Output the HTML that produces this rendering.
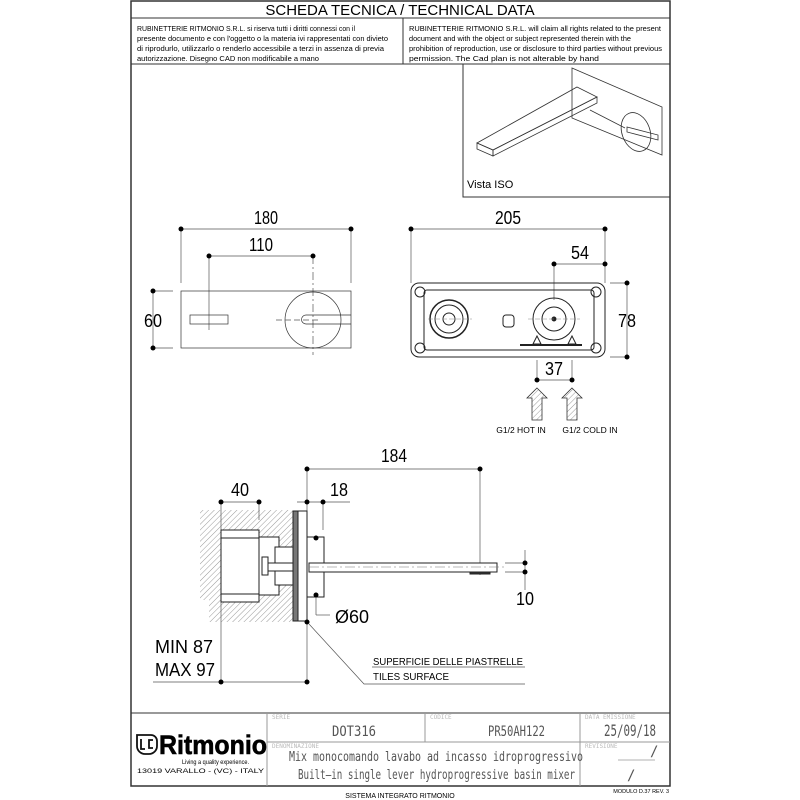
<!DOCTYPE html>
<html><head><meta charset="utf-8"><style>
html,body{margin:0;padding:0;background:#fff;width:800px;height:800px;overflow:hidden}
svg{display:block}
text{font-family:"Liberation Sans",sans-serif}
.m{font-family:"DejaVu Sans Mono","Liberation Mono",monospace}
</style></head><body>
<svg width="800" height="800" viewBox="0 0 800 800" xmlns="http://www.w3.org/2000/svg">
<defs>
<pattern id="h" width="4" height="4" patternUnits="userSpaceOnUse" patternTransform="rotate(45)">
<line x1="0" y1="0" x2="0" y2="4" stroke="#999" stroke-width="1"/></pattern>
</defs>
<g fill="none" stroke="#333" stroke-width="1">
<rect x="131" y="1" width="539" height="785" stroke-width="1.5"/>
<line x1="131" y1="18" x2="670" y2="18"/>
<line x1="131" y1="64" x2="670" y2="64"/>
<line x1="403" y1="18" x2="403" y2="64"/>
<polyline points="463,64 463,197 670,197"/>
<line x1="131" y1="713" x2="670" y2="713"/>
<line x1="267" y1="742" x2="670" y2="742" stroke="#999"/>
<line x1="267" y1="713" x2="267" y2="786" stroke="#999"/>
<line x1="425" y1="713" x2="425" y2="742" stroke="#999"/>
<line x1="580" y1="713" x2="580" y2="786" stroke="#999"/>
</g>
<text x="400" y="15" font-size="15" text-anchor="middle">SCHEDA TECNICA / TECHNICAL DATA</text>
<g font-size="7.5">
<text x="137" y="31" textLength="218" lengthAdjust="spacingAndGlyphs">RUBINETTERIE RITMONIO S.R.L. si riserva tutti i diritti connessi con il</text>
<text x="137" y="41" textLength="251" lengthAdjust="spacingAndGlyphs">presente documento e con l'oggetto o la materia ivi rappresentati con divieto</text>
<text x="137" y="51" textLength="247" lengthAdjust="spacingAndGlyphs">di riprodurlo, utilizzarlo o renderlo accessibile a terzi in assenza di previa</text>
<text x="137" y="61" textLength="182" lengthAdjust="spacingAndGlyphs">autorizzazione. Disegno CAD non modificabile a mano</text>
<text x="409" y="31" textLength="252" lengthAdjust="spacingAndGlyphs">RUBINETTERIE RITMONIO S.R.L. will claim all rights related to the present</text>
<text x="409" y="41" textLength="222" lengthAdjust="spacingAndGlyphs">document and with the object or subject represented therein with the</text>
<text x="409" y="51" textLength="253" lengthAdjust="spacingAndGlyphs">prohibition  of reproduction, use or disclosure to third parties without previous</text>
<text x="409" y="61" textLength="190" lengthAdjust="spacingAndGlyphs">permission.  The Cad plan is not alterable by hand</text>
</g>
<g fill="none" stroke="#333" stroke-width="0.8">
<polygon points="572,68 662,107 662,155 572,118"/>
<polygon points="577,87 597,97 493,150 477,143"/>
<polygon points="477,143 493,150 493,156 477,149"/>
<polygon points="597,97 597,103 493,156 493,150"/>
<line x1="590" y1="110" x2="625" y2="128"/>
<ellipse cx="636" cy="132" rx="14" ry="20" transform="rotate(-20 636 132)"/>
<polygon points="627,127 658,135 658,140 627,132"/>
</g>
<text x="467" y="188" font-size="11">Vista ISO</text>
<g fill="none" stroke="#555" stroke-width="0.7">
<line x1="181" y1="229" x2="351" y2="229"/><line x1="181" y1="229" x2="181" y2="283"/><line x1="351" y1="229" x2="351" y2="283"/>
<line x1="209" y1="256" x2="313" y2="256"/><line x1="209" y1="256" x2="209" y2="330"/><line x1="313" y1="256" x2="313" y2="355" stroke-dasharray="8 3 2 3"/>
<line x1="153" y1="291" x2="153" y2="348"/><line x1="153" y1="291" x2="173" y2="291"/><line x1="153" y1="348" x2="173" y2="348"/>
<rect x="181" y="291" width="170" height="57" stroke="#333"/>
<circle cx="313" cy="320" r="28" stroke="#333"/>
<rect x="190" y="315" width="38" height="9" stroke="#333"/>
<path d="M351,315 H306 a4.5,4.5 0 0 0 0,9 H351" stroke="#333"/>
<line x1="276" y1="320" x2="320" y2="320" stroke-dasharray="6 3"/>
</g>
<g fill="#000">
<circle cx="181" cy="229" r="2.5"/><circle cx="351" cy="229" r="2.5"/>
<circle cx="209" cy="256" r="2.5"/><circle cx="313" cy="256" r="2.5"/>
<circle cx="153" cy="291" r="2.5"/><circle cx="153" cy="348" r="2.5"/>
</g>
<g font-size="18" text-anchor="middle">
<text x="266" y="224" textLength="24" lengthAdjust="spacingAndGlyphs">180</text>
<text x="261" y="251" textLength="24" lengthAdjust="spacingAndGlyphs">110</text>
<text x="153" y="327" textLength="18" lengthAdjust="spacingAndGlyphs">60</text>
<text x="508" y="224" textLength="26" lengthAdjust="spacingAndGlyphs">205</text>
<text x="580" y="259" textLength="18" lengthAdjust="spacingAndGlyphs">54</text>
<text x="627" y="327" textLength="18" lengthAdjust="spacingAndGlyphs">78</text>
<text x="554" y="375" textLength="18" lengthAdjust="spacingAndGlyphs">37</text>
<text x="394" y="462" textLength="26" lengthAdjust="spacingAndGlyphs">184</text>
<text x="240" y="496" textLength="18" lengthAdjust="spacingAndGlyphs">40</text>
<text x="339" y="496" textLength="18" lengthAdjust="spacingAndGlyphs">18</text>
<text x="525" y="605" textLength="18" lengthAdjust="spacingAndGlyphs">10</text>
</g>
<g fill="none" stroke="#555" stroke-width="0.7">
<line x1="411" y1="229" x2="605" y2="229"/><line x1="411" y1="229" x2="411" y2="283"/><line x1="605" y1="229" x2="605" y2="283"/>
<line x1="554" y1="264" x2="605" y2="264"/><line x1="554" y1="264" x2="554" y2="300"/>
<line x1="627" y1="283" x2="627" y2="357"/><line x1="610" y1="283" x2="627" y2="283"/><line x1="610" y1="357" x2="627" y2="357"/>
<line x1="537" y1="360" x2="537" y2="380"/><line x1="572" y1="360" x2="572" y2="380"/><line x1="537" y1="380" x2="572" y2="380"/>
</g>
<g fill="none" stroke="#222" stroke-width="1">
<rect x="411" y="283" width="194" height="74" rx="8"/>
<rect x="424" y="290" width="170" height="60" rx="3"/>
<circle cx="420" cy="292" r="5"/><circle cx="596" cy="292" r="5"/><circle cx="420" cy="348" r="5"/><circle cx="596" cy="348" r="5"/>
<circle cx="449" cy="319" r="19" stroke-width="1.5"/><circle cx="449" cy="319" r="14"/><circle cx="449" cy="319" r="6"/>
<circle cx="554" cy="319" r="21"/><circle cx="554" cy="319" r="12"/><circle cx="554" cy="319" r="2" fill="#222"/>
<rect x="503" y="315" width="11" height="12" rx="3"/>
<line x1="520" y1="345" x2="582" y2="345" stroke-width="2"/>
<path d="M533,344 l4,-8 l4,8 z M568,344 l4,-8 l4,8 z"/>
<line x1="428" y1="319" x2="472" y2="319" stroke="#888" stroke-width="0.5" stroke-dasharray="5 2"/>
<line x1="528" y1="319" x2="580" y2="319" stroke="#888" stroke-width="0.5" stroke-dasharray="5 2"/>
</g>
<g fill="url(#h)" stroke="#333" stroke-width="0.8">
<path d="M537,388 l10,10 h-5 v22 h-10 v-22 h-5 z"/>
<path d="M572,388 l10,10 h-5 v22 h-10 v-22 h-5 z"/>
</g>
<g fill="#000">
<circle cx="411" cy="229" r="2.5"/><circle cx="605" cy="229" r="2.5"/>
<circle cx="554" cy="264" r="2.5"/><circle cx="605" cy="264" r="2.5"/>
<circle cx="627" cy="283" r="2.5"/><circle cx="627" cy="357" r="2.5"/>
<circle cx="537" cy="380" r="2.5"/><circle cx="572" cy="380" r="2.5"/>
</g>
<text x="521" y="433" font-size="8.5" text-anchor="middle">G1/2 HOT IN</text>
<text x="590" y="433" font-size="8.5" text-anchor="middle">G1/2 COLD IN</text>
<path d="M200,510 H293 V622 H209 V600 H200 Z" fill="url(#h)"/>
<g fill="none" stroke="#555" stroke-width="0.7">
<line x1="307" y1="469" x2="480" y2="469"/><line x1="480" y1="469" x2="480" y2="575"/>
<line x1="221" y1="502" x2="259" y2="502"/><line x1="221" y1="502" x2="221" y2="682"/><line x1="259" y1="502" x2="259" y2="520"/>
<line x1="297" y1="502" x2="350" y2="502"/><line x1="307" y1="469" x2="307" y2="682"/><line x1="323" y1="502" x2="323" y2="530"/>
<line x1="316" y1="538" x2="316" y2="615"/><line x1="316" y1="615" x2="330" y2="615"/>
<line x1="505" y1="563" x2="525" y2="563"/><line x1="505" y1="572" x2="525" y2="572"/><line x1="525" y1="550" x2="525" y2="590"/>
<line x1="153" y1="682" x2="307" y2="682"/>
<polyline points="309,624 364,684 525,684"/>
<line x1="372" y1="667" x2="525" y2="667"/>
</g>
<g fill="#fff" stroke="#222" stroke-width="1">
<rect x="221" y="530" width="38" height="72"/>
<line x1="221" y1="538" x2="259" y2="538"/><line x1="221" y1="594" x2="259" y2="594"/>
<rect x="259" y="537" width="20" height="58"/>
<rect x="275" y="547" width="32" height="38"/>
<rect x="262" y="557" width="6" height="18"/>
<rect x="268" y="563" width="40" height="8"/>
<rect x="293" y="511" width="5" height="110" fill="#777"/>
<rect x="298" y="511" width="9" height="110"/>
<rect x="307" y="537" width="17" height="60"/>
<rect x="309" y="563" width="188" height="9"/>
<path d="M470,572 h20 v2 h-20 z" fill="#333"/>
</g>
<line x1="309" y1="567" x2="505" y2="567" stroke="#777" stroke-width="0.6" stroke-dasharray="10 3 2 3"/>
<g fill="#000">
<circle cx="307" cy="469" r="2.5"/><circle cx="480" cy="469" r="2.5"/>
<circle cx="221" cy="502" r="2.5"/><circle cx="259" cy="502" r="2.5"/>
<circle cx="307" cy="502" r="2.5"/><circle cx="323" cy="502" r="2.5"/>
<circle cx="316" cy="538" r="2.5"/><circle cx="316" cy="595" r="2.5"/>
<circle cx="525" cy="563" r="2.5"/><circle cx="525" cy="572" r="2.5"/>
<circle cx="307" cy="622" r="2.5"/>
<circle cx="221" cy="682" r="2.5"/><circle cx="307" cy="682" r="2.5"/>
</g>
<text x="335" y="623" font-size="18" textLength="34" lengthAdjust="spacingAndGlyphs">Ø60</text>
<text x="155" y="653" font-size="18" textLength="58" lengthAdjust="spacingAndGlyphs">MIN 87</text>
<text x="155" y="676" font-size="18" textLength="60" lengthAdjust="spacingAndGlyphs">MAX 97</text>
<text x="373" y="665" font-size="10" textLength="150" lengthAdjust="spacingAndGlyphs">SUPERFICIE DELLE PIASTRELLE</text>
<text x="373" y="680" font-size="10" textLength="76" lengthAdjust="spacingAndGlyphs">TILES SURFACE</text>
<g font-size="6" fill="#bbb" class="m">
<text x="272" y="719" class="m">SERIE</text><text x="430" y="719" class="m">CODICE</text>
<text x="585" y="719" class="m">DATA EMISSIONE</text><text x="272" y="748" class="m">DENOMINAZIONE</text><text x="585" y="748" class="m">REVISIONE</text>
</g>
<g fill="#555" class="m">
<text x="332" y="736" font-size="14" textLength="44" lengthAdjust="spacingAndGlyphs" class="m">DOT316</text>
<text x="488" y="736" font-size="14" textLength="57" lengthAdjust="spacingAndGlyphs" class="m">PR50AH122</text>
<text x="604" y="736" font-size="16" textLength="52" lengthAdjust="spacingAndGlyphs" class="m">25/09/18</text>
<text x="289" y="761" font-size="13.5" textLength="294" lengthAdjust="spacingAndGlyphs" class="m">Mix monocomando lavabo ad incasso idroprogressivo</text>
<text x="298" y="779" font-size="13.5" textLength="277" lengthAdjust="spacingAndGlyphs" class="m">Built–in single lever hydroprogressive basin mixer</text>
<text x="650" y="756" font-size="14" class="m">/</text>
<text x="627" y="780" font-size="14" class="m">/</text>
</g>
<line x1="618" y1="760" x2="655" y2="760" stroke="#999" stroke-width="0.7"/>
<g fill="none" stroke="#111" stroke-width="1.8">
<path d="M137,735 h14 a6,6 0 0 1 6,6 v5 a8,8 0 0 1 -8,8 h-4 a8,8 0 0 1 -8,-8 z"/>
<path d="M141,739 v10 h4 M153,740 h-4 v8 h4"/>
</g>
<text x="159" y="754" font-size="27" font-weight="bold" stroke="#000" stroke-width="0.6" textLength="108" lengthAdjust="spacingAndGlyphs">Ritmonio</text>
<text x="182" y="764" font-size="6" textLength="67" lengthAdjust="spacingAndGlyphs">Living a quality experience.</text>
<text x="137" y="773" font-size="6.5" textLength="127" lengthAdjust="spacingAndGlyphs">13019 VARALLO - (VC) - ITALY</text>
<text x="669" y="793" font-size="5.5" text-anchor="end">MODULO D.37 REV. 3</text>
<text x="400" y="798" font-size="7" text-anchor="middle">SISTEMA INTEGRATO RITMONIO</text>
</svg>
</body></html>
